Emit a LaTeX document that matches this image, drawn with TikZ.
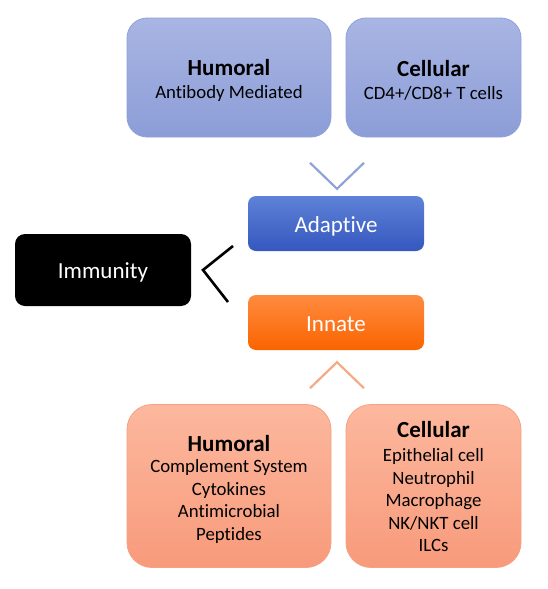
\documentclass[tikz,border=0pt]{standalone}
\usepackage{fontspec}
\setmainfont{Carlito}[Ligatures=NoCommon]
\usetikzlibrary{calc}
\definecolor{tbTop}{HTML}{A9B5E3}
\definecolor{tbBot}{HTML}{8C9DD7}
\definecolor{tbLine}{HTML}{8FA1D9}
\definecolor{adTop}{HTML}{5E82D7}
\definecolor{adBot}{HTML}{3557BF}
\definecolor{inTop}{HTML}{FF8B40}
\definecolor{inBot}{HTML}{FA6400}
\definecolor{bbTop}{HTML}{FCB89E}
\definecolor{bbBot}{HTML}{F89A7B}
\definecolor{bbLine}{HTML}{F5A282}
\definecolor{chevBlue}{HTML}{8FA3DA}
\definecolor{chevOrange}{HTML}{F7A984}
\begin{document}
\begin{tikzpicture}[x=1pt,y=-1pt,
  topbox/.style={draw=tbLine, line width=0.8pt, rounded corners=20pt, top color=tbTop, bottom color=tbBot,
    minimum height=119pt, inner sep=0pt},
  botbox/.style={draw=bbLine, line width=0.8pt, rounded corners=25pt, top color=bbTop, bottom color=bbBot,
    minimum height=163pt, inner sep=0pt},
  boxtext/.style={align=center, inner sep=0pt, font=\fontsize{18.8}{22.5}\selectfont},
  midbox/.style={rounded corners=8pt, minimum width=176pt, minimum height=55pt, inner sep=0pt,
    text=white, font=\fontsize{23}{26}\selectfont, text height=17pt, text depth=0pt},
  chev/.style={line width=2.2pt}
]
\useasboundingbox (0,0) rectangle (548,589);
\node[topbox, minimum width=204pt] (th) at (229,77.5) {};
\node[boxtext] (tht) at ($(th.center)+(0,3)$) {{\fontsize{23}{26}\selectfont\bfseries Humoral}\\[1pt] Antibody Mediated};
\node[topbox, minimum width=175pt] (tc) at (433.5,77.5) {};
\node[boxtext] (tct) at ($(tc.center)+(0,3)$) {{\fontsize{23}{26}\selectfont\bfseries Cellular}\\[1pt] CD4+/CD8+ T cells};
\node[midbox, top color=adTop, bottom color=adBot] (ad) at (336,223.5) {Adaptive};
\node[midbox, minimum height=72pt, rounded corners=10pt, fill=black] (im) at (103,270) {Immunity};
\node[midbox, top color=inTop, bottom color=inBot] (in) at (336,322.5) {Innate};
\node[botbox, minimum width=204pt] (bh) at (229,486) {};
\node[boxtext] (bht) at ($(bh.center)+(0,3)$) {{\fontsize{23}{26}\selectfont\bfseries Humoral}\\[-1pt] Complement System\\ Cytokines\\ Antimicrobial\\ Peptides};
\node[botbox, minimum width=175pt] (bc) at (433.5,486) {};
\node[boxtext] (bct) at ($(bc.center)+(0,0.5)$) {{\fontsize{23}{26}\selectfont\bfseries Cellular}\\[2pt] Epithelial cell\\ Neutrophil\\ Macrophage\\ NK/NKT cell\\ ILCs};
% chevrons
\coordinate (ba) at ($(ad.north)+(-26,-33)$);
\coordinate (bb) at ($(ad.north)+(1,-7)$);
\coordinate (bc2) at ($(ad.north)+(28,-33)$);
\draw[chev, chevBlue] (ba) -- (bb) -- (bc2);
\coordinate (ka) at (233,246);
\coordinate (kb) at (203,270);
\coordinate (kc) at (228,302);
\draw[chev, black, line width=2.6pt] (ka) -- (kb) -- (kc);
\coordinate (oa) at ($(in.south)+(-26,38)$);
\coordinate (ob) at ($(in.south)+(1,12)$);
\coordinate (oc) at ($(in.south)+(28,38)$);
\draw[chev, chevOrange] (oa) -- (ob) -- (oc);
\end{tikzpicture}
\end{document}
